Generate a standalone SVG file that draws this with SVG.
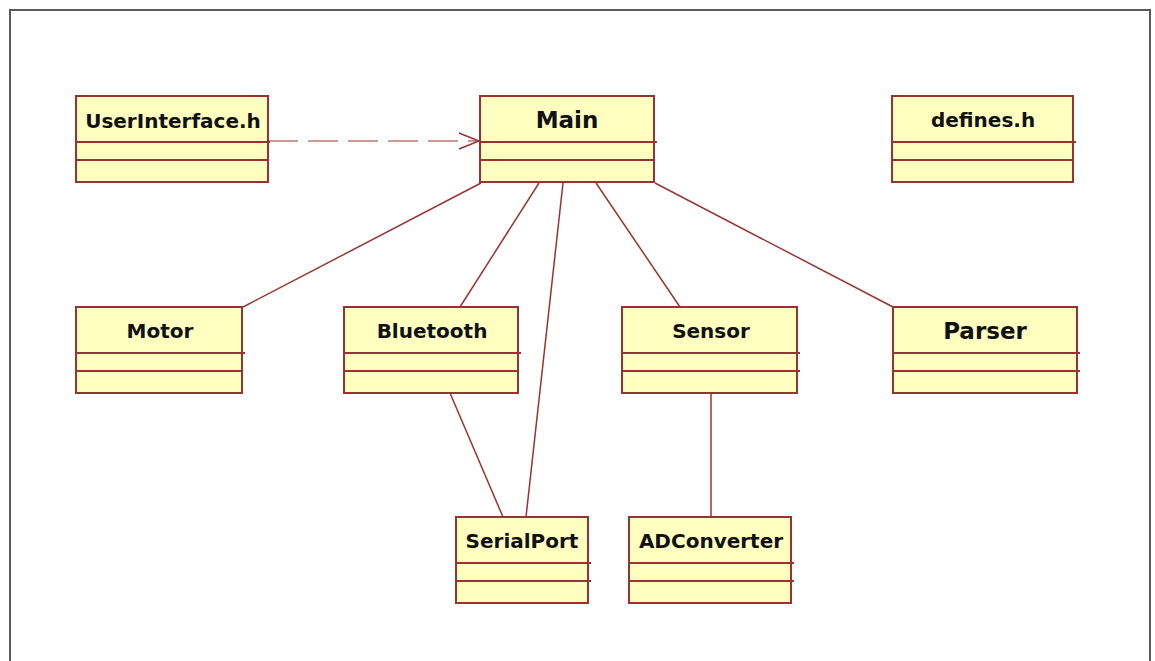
<svg xmlns="http://www.w3.org/2000/svg" width="1155" height="661" viewBox="0 0 1155 661">
  <style>
    .frame { fill: #ffffff; stroke: #5a5a5a; stroke-width: 2; }
    .box { fill: #ffffc0; stroke: #993333; stroke-width: 2; }
    .div { stroke: #993333; stroke-width: 2; }
    .name { font-family: "DejaVu Sans", Verdana, sans-serif; font-weight: bold; font-size: 20px; fill: #111111; text-anchor: middle; }
    .big { font-size: 23px; }
    .link { fill: none; stroke: #993333; stroke-width: 1.5; }
    .dep { stroke-dasharray: 30 10; stroke-width: 1.2; }
  </style>
  <defs>
    <marker id="open-arrow" markerWidth="24" markerHeight="20" refX="21" refY="9" orient="auto" markerUnits="userSpaceOnUse">
      <path d="M1,1 L21,9 L1,17" fill="none" stroke="#993333" stroke-width="1.5"/>
    </marker>
  </defs>

  <rect width="1155" height="661" fill="#ffffff"/>
  <rect class="frame" x="10" y="10" width="1140" height="680"/>

  <g id="connectors">
    <line class="link dep" x1="268" y1="141" x2="479" y2="141" marker-end="url(#open-arrow)"/>
    <line class="link" x1="481" y1="183" x2="243" y2="307"/>
    <line class="link" x1="539" y1="183" x2="460" y2="307"/>
    <line class="link" x1="563" y1="183" x2="526" y2="517"/>
    <line class="link" x1="596" y1="183" x2="680" y2="307"/>
    <line class="link" x1="655" y1="183" x2="893" y2="307"/>
    <line class="link" x1="450" y1="393" x2="503" y2="517"/>
    <line class="link" x1="711" y1="393" x2="711" y2="517"/>
  </g>

  <g id="UserInterface">
    <rect class="box" x="76" y="96" width="192" height="86"/>
    <line class="div" x1="76" y1="142" x2="270" y2="142"/>
    <line class="div" x1="76" y1="160" x2="268" y2="160"/>
    <text class="name" x="173" y="128">UserInterface.h</text>
  </g>

  <g id="Main">
    <rect class="box" x="480" y="96" width="174" height="86"/>
    <line class="div" x1="480" y1="142" x2="657" y2="142"/>
    <line class="div" x1="480" y1="160" x2="654" y2="160"/>
    <text class="name big" x="567" y="128">Main</text>
  </g>

  <g id="defines">
    <rect class="box" x="892" y="96" width="181" height="86"/>
    <line class="div" x1="892" y1="142" x2="1076" y2="142"/>
    <line class="div" x1="892" y1="160" x2="1073" y2="160"/>
    <text class="name" x="983" y="127" font-size="19">defines.h</text>
  </g>

  <g id="Motor">
    <rect class="box" x="76" y="307" width="166" height="86"/>
    <line class="div" x1="76" y1="353" x2="245" y2="353"/>
    <line class="div" x1="76" y1="371" x2="242" y2="371"/>
    <text class="name" x="160" y="338">Motor</text>
  </g>

  <g id="Bluetooth">
    <rect class="box" x="344" y="307" width="174" height="86"/>
    <line class="div" x1="344" y1="353" x2="521" y2="353"/>
    <line class="div" x1="344" y1="371" x2="518" y2="371"/>
    <text class="name" x="432" y="338">Bluetooth</text>
  </g>

  <g id="Sensor">
    <rect class="box" x="622" y="307" width="175" height="86"/>
    <line class="div" x1="622" y1="353" x2="800" y2="353"/>
    <line class="div" x1="622" y1="371" x2="800" y2="371"/>
    <text class="name" x="711" y="338">Sensor</text>
  </g>

  <g id="Parser">
    <rect class="box" x="893" y="307" width="184" height="86"/>
    <line class="div" x1="893" y1="353" x2="1080" y2="353"/>
    <line class="div" x1="893" y1="371" x2="1080" y2="371"/>
    <text class="name big" x="985" y="339">Parser</text>
  </g>

  <g id="SerialPort">
    <rect class="box" x="456" y="517" width="132" height="86"/>
    <line class="div" x1="456" y1="563" x2="591" y2="563"/>
    <line class="div" x1="456" y1="581" x2="591" y2="581"/>
    <text class="name" x="522" y="548">SerialPort</text>
  </g>

  <g id="ADConverter">
    <rect class="box" x="629" y="517" width="162" height="86"/>
    <line class="div" x1="629" y1="563" x2="794" y2="563"/>
    <line class="div" x1="629" y1="581" x2="794" y2="581"/>
    <text class="name" x="711" y="548">ADConverter</text>
  </g>
</svg>
